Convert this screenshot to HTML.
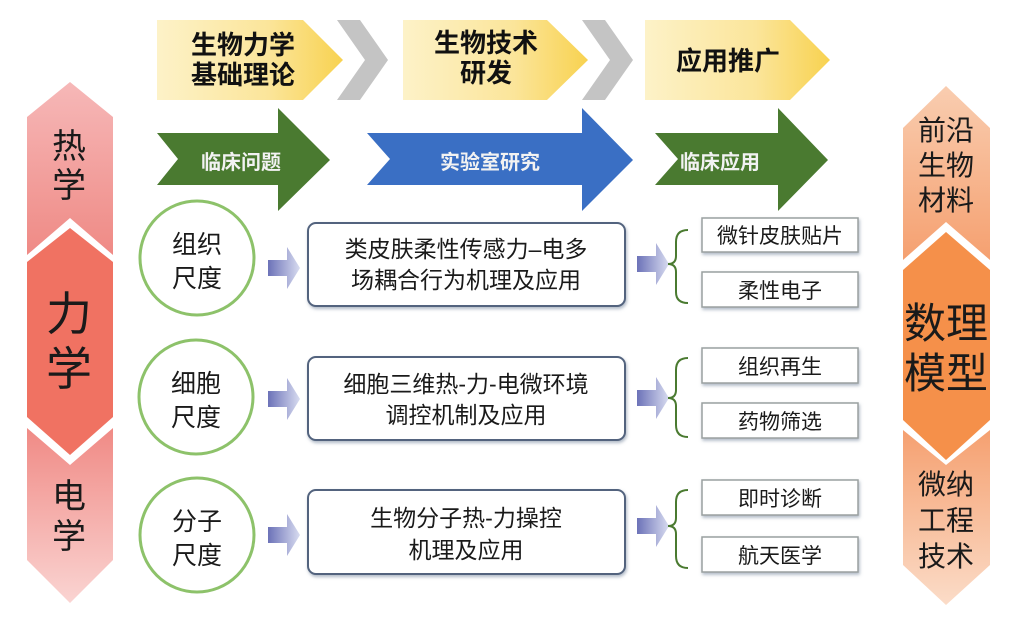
<!DOCTYPE html>
<html><head><meta charset="utf-8"><style>
html,body{margin:0;padding:0;background:#fff;}
text{font-family:"Liberation Sans","Noto Sans CJK SC",sans-serif;}
</style></head><body>
<svg width="1024" height="618" viewBox="0 0 1024 618" xmlns="http://www.w3.org/2000/svg">
<defs>
<linearGradient id="yel" x1="0" x2="1" y1="0" y2="0"><stop offset="0" stop-color="#fdf2c8"/><stop offset="0.6" stop-color="#fbe59a"/><stop offset="1" stop-color="#f8d250"/></linearGradient>
<linearGradient id="l1" x1="0" x2="0" y1="0" y2="1"><stop offset="0" stop-color="#f6b8b8"/><stop offset="1" stop-color="#ef8a85"/></linearGradient>
<linearGradient id="l3" x1="0" x2="0" y1="0" y2="1"><stop offset="0" stop-color="#f08a85"/><stop offset="1" stop-color="#fad4d2"/></linearGradient>
<linearGradient id="r1" x1="0" x2="0" y1="0" y2="1"><stop offset="0" stop-color="#f9cdb0"/><stop offset="1" stop-color="#f5a070"/></linearGradient>
<linearGradient id="r3" x1="0" x2="0" y1="0" y2="1"><stop offset="0" stop-color="#f5a070"/><stop offset="1" stop-color="#fbdcc8"/></linearGradient>
<linearGradient id="sa" x1="0" x2="1" y1="0" y2="0"><stop offset="0" stop-color="#6c72b8"/><stop offset="1" stop-color="#d8dcf0"/></linearGradient>
<filter id="sh" x="-10%" y="-10%" width="130%" height="140%"><feDropShadow dx="1" dy="2" stdDeviation="1.5" flood-color="#7a8aa0" flood-opacity="0.6"/></filter>
</defs>

<polygon points="157,20 303,20 343,60 303,100 157,100" fill="url(#yel)"/>
<polygon points="337,20 360,20 388,60 360,100 337,100 365,60" fill="#c4c4c4"/>
<polygon points="403,20 547,20 588,60 547,100 403,100" fill="url(#yel)"/>
<polygon points="582,20 605,20 633,60 605,100 582,100 610,60" fill="#c4c4c4"/>
<polygon points="645,20 790,20 830,60 790,100 645,100" fill="url(#yel)"/>
<g font-weight="bold" font-size="26" fill="#111" text-anchor="middle">
<text x="243" y="54">生物力学</text><text x="243" y="84">基础理论</text>
<text x="486" y="52">生物技术</text><text x="486" y="82">研发</text>
<text x="728" y="70">应用推广</text>
</g>

<polygon points="157,133 278,133 278,108 330,160 278,211 278,185 157,185 178,159" fill="#4a7a30"/>
<polygon points="367,133 582,133 582,108 633,160 582,211 582,185 367,185 390,159" fill="#3a6fc4"/>
<polygon points="655,133 778,133 778,108 828,160 778,211 778,185 655,185 678,159" fill="#4a7a30"/>
<g font-weight="bold" font-size="20" fill="#f2f2f2" text-anchor="middle">
<text x="241" y="169">临床问题</text>
<text x="490" y="169">实验室研究</text>
<text x="720" y="169">临床应用</text>
</g>

<polygon points="27,117 70,82 113,117 113,255 70,218 27,255" fill="url(#l1)"/>
<polygon points="27,262 70,228 113,262 113,417 70,455 27,417" fill="#f07262"/>
<polygon points="27,428 70,465 113,428 113,560 70,603 27,560" fill="url(#l3)"/>
<g font-size="34" fill="#1a1a1a" text-anchor="middle">
<text x="69" y="158">热</text><text x="69" y="197">学</text>
<text x="69" y="508">电</text><text x="69" y="548">学</text>
</g>
<g font-size="46" fill="#1a1a1a" text-anchor="middle">
<text x="69" y="330">力</text><text x="69" y="385">学</text>
</g>

<polygon points="903,128 946,86 990,128 990,260 946,222 903,260" fill="url(#r1)"/>
<polygon points="903,270 946,232 990,270 990,420 946,460 903,420" fill="#f5904a"/>
<polygon points="903,430 946,465 990,430 990,565 946,605 903,565" fill="url(#r3)"/>
<g font-size="28" fill="#1a1a1a" text-anchor="middle">
<text x="946" y="140">前沿</text><text x="946" y="175">生物</text><text x="946" y="210">材料</text>
<text x="946" y="494">微纳</text><text x="946" y="530">工程</text><text x="946" y="566">技术</text>
</g>
<g font-size="42" fill="#1a1a1a" text-anchor="middle">
<text x="946" y="338">数理</text><text x="946" y="388">模型</text>
</g>

<g fill="#fff" stroke="#8dc26a" stroke-width="3">
<circle cx="197" cy="258" r="57"/>
<circle cx="196" cy="397" r="57"/>
<circle cx="197" cy="535" r="57"/>
</g>
<g font-size="25" fill="#1a1a1a" text-anchor="middle">
<text x="197" y="253">组织</text><text x="197" y="287">尺度</text>
<text x="196" y="392">细胞</text><text x="196" y="426">尺度</text>
<text x="197" y="530">分子</text><text x="197" y="564">尺度</text>
</g>

<g fill="url(#sa)">
<polygon points="268,260 287,260 287,247 300,268 287,289 287,276 268,276"/>
<polygon points="268,391 287,391 287,378 300,399 287,420 287,407 268,407"/>
<polygon points="268,527 287,527 287,514 300,535 287,556 287,543 268,543"/>
<polygon points="637,256 656,256 656,243 669,264 656,285 656,272 637,272"/>
<polygon points="637,390 656,390 656,377 669,398 656,419 656,406 637,406"/>
<polygon points="637,518 656,518 656,505 669,526 656,547 656,534 637,534"/>
</g>

<g fill="#fff" stroke="#52647e" stroke-width="2" filter="url(#sh)">
<rect x="308" y="223" width="317" height="83" rx="8"/>
<rect x="308" y="357" width="317" height="83" rx="8"/>
<rect x="308" y="490" width="317" height="84" rx="8"/>
</g>
<g font-size="23" fill="#1a1a1a" text-anchor="middle">
<text x="466" y="257">类皮肤柔性传感力–电多</text><text x="466" y="288">场耦合行为机理及应用</text>
<text x="466" y="392">细胞三维热-力-电微环境</text><text x="466" y="423">调控机制及应用</text>
<text x="466" y="526">生物分子热-力操控</text><text x="466" y="558">机理及应用</text>
</g>

<g fill="none" stroke="#4a7a30" stroke-width="2">
<path d="M688,230 Q676,230 676,242 L676,256 Q676,264 668,264 Q676,264 676,272 L676,292 Q676,303 688,303"/>
<path d="M688,358 Q676,358 676,370 L676,390 Q676,398 668,398 Q676,398 676,406 L676,425 Q676,437 688,437"/>
<path d="M688,490 Q676,490 676,502 L676,518 Q676,526 668,526 Q676,526 676,534 L676,556 Q676,568 688,568"/>
</g>

<g fill="#fff" stroke="#9aa0a0" stroke-width="1.5" filter="url(#sh)">
<rect x="702" y="218" width="156" height="34"/>
<rect x="702" y="272" width="156" height="35"/>
<rect x="702" y="348" width="156" height="35"/>
<rect x="702" y="403" width="156" height="35"/>
<rect x="702" y="480" width="156" height="35"/>
<rect x="702" y="537" width="156" height="35"/>
</g>
<g font-size="21" fill="#1a1a1a" text-anchor="middle">
<text x="780" y="243">微针皮肤贴片</text>
<text x="780" y="298">柔性电子</text>
<text x="780" y="374">组织再生</text>
<text x="780" y="429">药物筛选</text>
<text x="780" y="506">即时诊断</text>
<text x="780" y="563">航天医学</text>
</g>
</svg>
</body></html>
